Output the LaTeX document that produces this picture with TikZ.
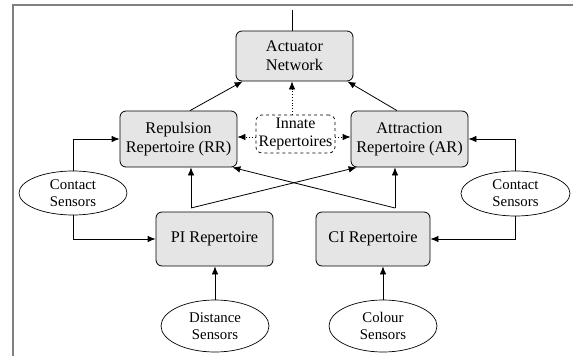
\documentclass[tikz,border=0pt]{standalone}
\usepackage{fontspec}
\setmainfont{Liberation Serif}
\usetikzlibrary{arrows.meta,calc,shapes.geometric}
\begin{document}
\begin{tikzpicture}[x=1pt,y=-1pt,
  box/.style={draw=black,line width=0.8pt,fill=black!10,rounded corners=6pt,
    align=center,inner sep=0pt,font=\fontsize{16.3}{18.8}\selectfont},
  innbox/.style={draw=black,line width=0.7pt,dashed,fill=white,rounded corners=6pt,
    align=center,inner sep=0pt,minimum width=79pt,minimum height=38pt,
    font=\fontsize{16}{18}\selectfont},
  sens/.style={draw=black,line width=0.7pt,ellipse,align=center,inner sep=0pt,
    font=\fontsize{14.8}{17}\selectfont},
  arr/.style={line width=0.8pt,-{Latex[length=8pt,width=6.5pt]}},
  darr/.style={line width=0.8pt,dotted,-{Latex[length=8pt,width=6.5pt]}}
]
\useasboundingbox (0,0) rectangle (573,356);
\draw[black!50,line width=1.3pt] (573,5) -- (13,5) -- (13,356);

\node[box,minimum width=117pt,minimum height=50pt] (act) at (294.5,56) {Actuator\\Network};
\node[box,minimum width=117pt,minimum height=56pt] (rr) at (178.5,139) {Repulsion\\Repertoire (RR)};
\node[box,minimum width=117pt,minimum height=56pt] (ar) at (409.5,139) {Attraction\\Repertoire (AR)};
\node[innbox] (inn) at (295.5,134) {Innate\\Repertoires};
\node[box,minimum width=117pt,minimum height=54pt] (pi) at (214.5,239) {PI Repertoire};
\node[box,minimum width=114pt,minimum height=54pt] (ci) at (373,239) {CI Repertoire};
\node[sens,minimum width=108pt,minimum height=44pt] (csl) at (73,193) {Contact\\Sensors};
\node[sens,minimum width=109pt,minimum height=45pt] (csr) at (515.5,193.5) {Contact\\Sensors};
\node[sens,minimum width=108pt,minimum height=52pt] (ds) at (215,326) {Distance\\Sensors};
\node[sens,minimum width=108pt,minimum height=52pt] (cs) at (383,326) {Colour\\Sensors};

\coordinate (topend) at (292,10);
\coordinate (pt) at (191,208);
\coordinate (ct) at (395,208);

\draw[line width=0.8pt] (topend |- act.north) -- (topend);
\draw[arr] ($(rr.north)+(11.5,0)$) -- ($(act.south west)+(7,0)$);
\draw[arr] ($(ar.north)+(-12.5,0)$) -- ($(act.south east)+(-6,0)$);
\draw[darr] (topend |- inn.north) -- (topend |- act.south);
\draw[darr] ([yshift=-3pt]inn.west) -- ([yshift=-3pt]inn.west -| rr.east);
\draw[darr] ([yshift=-3pt]inn.east) -- ([yshift=-3pt]inn.east -| ar.west);

\draw[arr] (csl.north) |- (rr.west);
\draw[arr] (csl.south) |- (pi.west);
\draw[arr] (csr.north) |- (ar.east);
\draw[arr] (csr.south) |- (ci.east);

\draw[arr] (ds.north) -- (ds.north |- pi.south);
\draw[arr] (cs.north) -- (cs.north |- ci.south);

\draw[arr] (pt) -- (pt |- rr.south);
\draw[arr] (pt) -- ($(ar.south west)+(6,0)$);
\draw[arr] (ct) -- (ct |- ar.south);
\draw[arr] (ct) -- ($(rr.south east)+(-5,0)$);
\end{tikzpicture}
\end{document}
